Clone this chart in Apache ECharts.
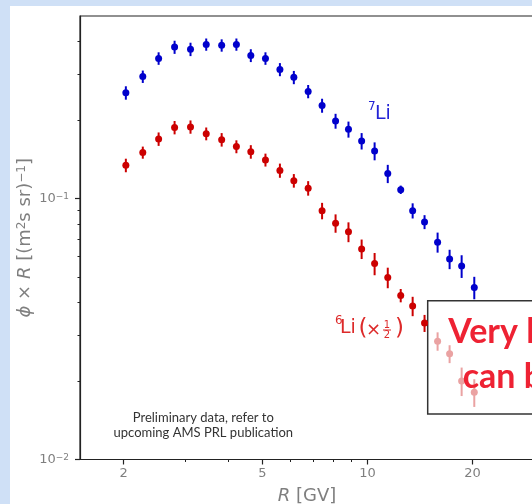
<!DOCTYPE html>
<html lang="en">
<head>
    <meta charset="UTF-8">
    <title>Li isotopes</title>
    <script src="https://cdn.jsdelivr.net/npm/echarts@6/dist/echarts.min.js"></script>
    <style>
        body { margin: 0; background: #cfe0f6; width: 532px; height: 504px; overflow: hidden; }
        #echart1 { position: absolute; left: 10px; top: 6px; width: 522px; height: 498px; background: #fff; }
    </style>
</head>
<body>
    <div id="echart1"></div>
<script>
    // rigidity bins [GV]
    var rigidity = [2.03, 2.27, 2.52, 2.80, 3.11, 3.45, 3.82, 4.21, 4.63, 5.10, 5.61, 6.15, 6.76,
                    7.41, 8.10, 8.82, 9.62, 10.48, 11.43, 12.45, 13.47, 14.57, 15.88, 17.19, 18.61, 20.23];
    // 7Li flux x R
    var li7Flux = [0.254, 0.293, 0.344, 0.380, 0.373, 0.389, 0.386, 0.389, 0.353, 0.344, 0.312, 0.291, 0.257,
                   0.227, 0.198, 0.184, 0.166, 0.152, 0.1245, 0.108, 0.0898, 0.0813, 0.068, 0.0586, 0.0551, 0.0456];
    var li7Err = [0.015, 0.016, 0.019, 0.022, 0.022, 0.021, 0.021, 0.021, 0.020, 0.019, 0.018, 0.017, 0.015,
                  0.014, 0.013, 0.013, 0.012, 0.012, 0.010, 0.004, 0.006, 0.005, 0.006, 0.005, 0.0055, 0.0045];
    // 6Li flux x R (x 1/2)
    var li6Flux = [0.134, 0.150, 0.169, 0.187, 0.188, 0.177, 0.168, 0.158, 0.151, 0.1405, 0.128, 0.117, 0.1095,
                   0.0897, 0.0804, 0.0745, 0.0641, 0.0563, 0.0498, 0.0425, 0.0387, 0.0333];
    var li6Err = [0.008, 0.008, 0.010, 0.011, 0.011, 0.010, 0.010, 0.009, 0.009, 0.008, 0.008, 0.007, 0.007,
                  0.0065, 0.0065, 0.0065, 0.0055, 0.0055, 0.0045, 0.0025, 0.0033, 0.0025];
    // 6Li points behind the note box
    var li6FadedFlux = [0.0284, 0.0254, 0.0200, 0.0181];
    var li6FadedErr = [0.0023, 0.0020, 0.0025, 0.0022];

    var xMajor = [2, 5, 10, 20];
    var xMinor = [3, 4, 6, 7, 8, 9, 30];
    var yMajor = [0.01, 0.1];
    var yMinor = [0.02, 0.03, 0.04, 0.05, 0.06, 0.07, 0.08, 0.09, 0.2, 0.3, 0.4];

    var axisColor = '#222';
    var labelColor = '#7f7f7f';
    var font = 'DejaVu Sans';

    function points(xs, ys) {
        return ys.map(function (v, i) { return [xs[i], v]; });
    }
    function bars(xs, ys, es) {
        return ys.map(function (v, i) { return [xs[i], v - es[i], v + es[i]]; });
    }
    function errorSeries(data, color) {
        return {
            type: 'custom',
            data: data,
            encode: { x: 0, y: [1, 2] },
            z: 2,
            silent: true,
            renderItem: function (params, api) {
                var p1 = api.coord([api.value(0), api.value(1)]);
                var p2 = api.coord([api.value(0), api.value(2)]);
                return {
                    type: 'line',
                    shape: { x1: p1[0], y1: p1[1], x2: p2[0], y2: p2[1] },
                    style: { stroke: color, lineWidth: 2 }
                };
            }
        };
    }
    function dotSeries(data, color) {
        return {
            type: 'scatter',
            data: data,
            symbolSize: 7,
            z: 3,
            silent: true,
            itemStyle: { color: color, opacity: 1 }
        };
    }

    var li7Color = '#0000cc';
    var li6Color = '#cc0000';
    var fadedColor = '#eaa2a2';

    var option = {
        animation: false,
        grid: {
            left: 70, top: 10, right: -2, bottom: 44.5,
            outerBoundsMode: 'none',
            containLabel: false,
            show: true, borderColor: axisColor, borderWidth: 1.2
        },
        xAxis: [{
            type: 'log', min: 1.5, max: 30,
            axisLine: { show: true, lineStyle: { color: axisColor, width: 1.2 } },
            axisTick: { show: true, customValues: xMajor, length: 5, lineStyle: { color: axisColor, width: 1.2 } },
            axisLabel: {
                customValues: xMajor, margin: 8,
                color: labelColor, fontSize: 13, fontFamily: font
            },
            splitLine: { show: false },
            name: '{i|R} [GV]',
            nameLocation: 'middle',
            nameGap: 28,
            nameTextStyle: {
                color: labelColor, fontSize: 18, fontFamily: font,
                rich: { i: { fontStyle: 'italic', fontSize: 18, color: labelColor, fontFamily: font } }
            }
        }, {
            type: 'log', min: 1.5, max: 30, position: 'bottom',
            axisLine: { show: false },
            axisTick: { show: true, customValues: xMinor, length: 2.5, lineStyle: { color: axisColor, width: 1 } },
            axisLabel: { show: false },
            splitLine: { show: false }
        }],
        yAxis: [{
            type: 'log', min: 0.01, max: 0.5,
            axisLine: { show: true, lineStyle: { color: axisColor, width: 1.2 } },
            axisTick: { show: true, customValues: yMajor, length: 5, lineStyle: { color: axisColor, width: 1.2 } },
            axisLabel: {
                customValues: yMajor, margin: 11,
                formatter: function (v) {
                    return '{b|10}{s|\u2212' + Math.round(-Math.log10(v)) + '}';
                },
                rich: {
                    b: { fontSize: 13, color: labelColor, fontFamily: font },
                    s: { fontSize: 9, color: labelColor, fontFamily: font, verticalAlign: 'top' }
                }
            },
            splitLine: { show: false },
            name: '{i|\u03d5} \u00d7 {i|R} [(m{s|2}s sr){s|\u22121}]',
            nameLocation: 'middle',
            nameRotate: 90,
            nameGap: 46,
            nameMoveOverlap: false,
            nameTextStyle: {
                color: labelColor, fontSize: 18, fontFamily: font,
                rich: {
                    i: { fontStyle: 'italic', fontSize: 18, color: labelColor, fontFamily: font },
                    s: { fontSize: 12, color: labelColor, fontFamily: font, verticalAlign: 'top' }
                }
            }
        }, {
            type: 'log', min: 0.01, max: 0.5, position: 'left',
            axisLine: { show: false },
            axisTick: { show: true, customValues: yMinor, length: 2.5, lineStyle: { color: axisColor, width: 1 } },
            axisLabel: { show: false },
            splitLine: { show: false }
        }],
        series: [
            errorSeries(bars(rigidity, li7Flux, li7Err), li7Color),
            dotSeries(points(rigidity, li7Flux), li7Color),
            errorSeries(bars(rigidity, li6Flux, li6Err), li6Color),
            dotSeries(points(rigidity, li6Flux), li6Color),
            errorSeries(bars(rigidity.slice(li6Flux.length), li6FadedFlux, li6FadedErr), fadedColor),
            dotSeries(points(rigidity.slice(li6Flux.length), li6FadedFlux), fadedColor)
        ],
        graphic: [
            // isotope labels
            { type: 'text', z: 10, style: { x: 358, y: 100.7, text: '7', font: '12px DejaVu Sans', fill: '#2323d6', textVerticalAlign: 'middle' } },
            { type: 'text', z: 10, style: { x: 365, y: 108, text: 'Li', font: '19px DejaVu Sans', fill: '#2323d6', textVerticalAlign: 'middle' } },
            { type: 'text', z: 10, style: { x: 325, y: 314.5, text: '6', font: '12px DejaVu Sans', fill: '#dd2a2a', textVerticalAlign: 'middle' } },
            { type: 'text', z: 10, style: { x: 330, y: 322.4, text: 'Li', font: '19px DejaVu Sans', fill: '#dd2a2a', textVerticalAlign: 'middle' } },
            { type: 'text', z: 10, style: { x: 348.5, y: 323, text: '(', font: '23px DejaVu Sans', fill: '#dd2a2a', textVerticalAlign: 'middle' } },
            { type: 'text', z: 10, style: { x: 356, y: 324, text: '\u00d7', font: '18px DejaVu Sans', fill: '#dd2a2a', textVerticalAlign: 'middle' } },
            { type: 'text', z: 10, style: { x: 377, y: 319.5, text: '1', font: '10px DejaVu Sans', fill: '#dd2a2a', textAlign: 'center', textVerticalAlign: 'middle' } },
            { type: 'line', z: 10, shape: { x1: 373, y1: 324, x2: 381, y2: 324 }, style: { stroke: '#dd2a2a', lineWidth: 1 } },
            { type: 'text', z: 10, style: { x: 377, y: 329.5, text: '2', font: '10px DejaVu Sans', fill: '#dd2a2a', textAlign: 'center', textVerticalAlign: 'middle' } },
            { type: 'text', z: 10, style: { x: 385, y: 323, text: ')', font: '23px DejaVu Sans', fill: '#dd2a2a', textVerticalAlign: 'middle' } },
            // preliminary note
            { type: 'text', z: 10, style: { x: 193.3, y: 412, text: 'Preliminary data, refer to', font: '13px Lato', fill: '#333', textAlign: 'center', textVerticalAlign: 'middle' } },
            { type: 'text', z: 10, style: { x: 193.3, y: 427, text: 'upcoming AMS PRL publication', font: '13px Lato', fill: '#333', textAlign: 'center', textVerticalAlign: 'middle' } },
            // overlay box
            { type: 'rect', z: 1, shape: { x: 417.7, y: 294.7, width: 200, height: 113.3 }, style: { fill: '#fff', stroke: '#333', lineWidth: 1.5 } },
            { type: 'text', z: 10, style: { x: 438.3, y: 326.5, text: 'Very low statistics,', font: 'bold 34px Lato', fill: '#ee2233', textVerticalAlign: 'middle' } },
            { type: 'text', z: 10, style: { x: 452.7, y: 371.5, text: 'can be improved', font: 'bold 34px Lato', fill: '#ee2233', textVerticalAlign: 'middle' } }
        ]
    };
    var mychart1 = echarts.init(document.getElementById('echart1'));
    mychart1.setOption(option);
</script>
</body>
</html>
